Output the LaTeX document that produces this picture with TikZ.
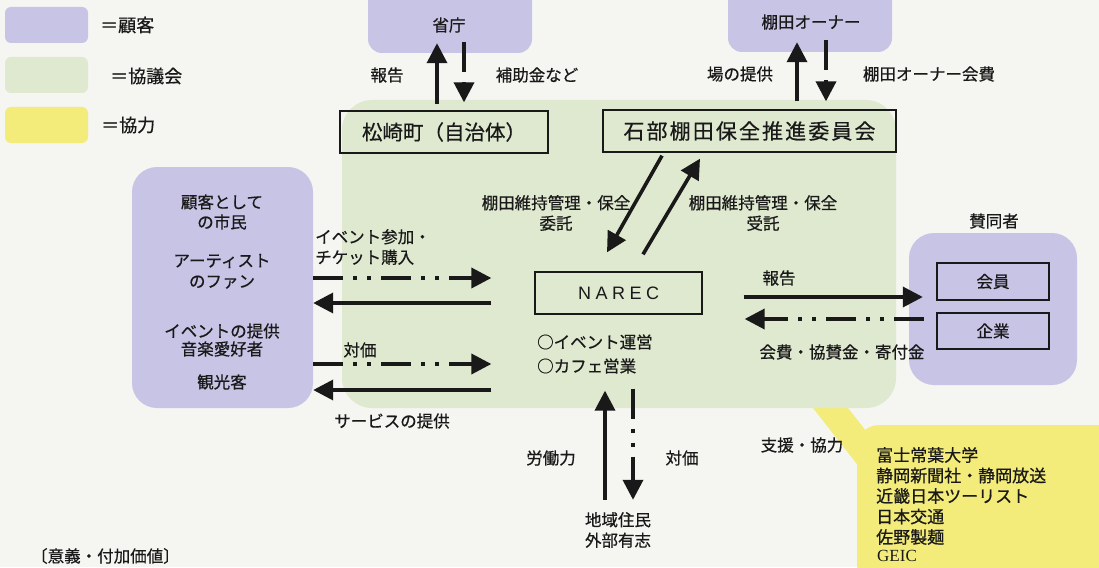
\documentclass[tikz,border=0pt]{standalone}
\usepackage{fontspec}
\setmainfont{Noto Sans CJK JP}[FakeBold=0.6]
\newfontfamily\jpwide[LetterSpace=10,FakeBold=0.6]{Noto Sans CJK JP}
\newfontfamily\narecfont[LetterSpace=25]{Liberation Sans}
\newfontfamily\serifL{Liberation Serif}
\usetikzlibrary{arrows.meta,calc}
\definecolor{bg}{RGB}{245,245,242}
\definecolor{purp}{RGB}{199,196,229}
\definecolor{grn}{RGB}{223,233,207}
\definecolor{yel}{RGB}{244,236,122}
\definecolor{ink}{RGB}{25,25,25}
\tikzset{
  txt/.style={inner sep=0pt, text=ink, align=center, font=\fontsize{16.5}{20.5}\selectfont},
  lgtxt/.style={txt, anchor=west, font=\fontsize{18}{20}\selectfont},
  frame/.style={draw=ink, line width=1.3pt, inner sep=0pt, text=ink},
  swatch/.style={rounded corners=6pt, minimum width=83pt, minimum height=36pt, inner sep=0pt},
  region/.style={inner sep=0pt},
  sol/.style={draw=ink, line width=3.6pt, -{Triangle[length=20pt,width=20pt]}},
  dd/.style={sol, dash pattern=on 30pt off 10pt on 4pt off 10pt on 4pt off 10pt},
}
\begin{document}
\begin{tikzpicture}[x=1pt,y=-1pt]
\fill[bg] (0,0) rectangle (1099,567);
\useasboundingbox (0,0) rectangle (1099,567);

% legend
\node[swatch, fill=purp] (lgA) at (46.5,25) {};
\node[lgtxt] (lgAt) at (100,25) {＝顧客};
\node[swatch, fill=grn] (lgB) at (46.5,75) {};
\node[lgtxt] (lgBt) at (110,76) {＝協議会};
\node[swatch, fill=yel] (lgC) at (46.5,125) {};
\node[lgtxt] (lgCt) at (101,125) {＝協力};

% yellow support callout (under the council region)
\fill[yel] (813,408) -- (848,408) -- (870,436) -- (860,468) -- cycle;
\node[region, fill=yel, rounded corners=22pt, minimum width=273pt, minimum height=175pt] (support) at (993.5,512.5) {};

% council region
\node[region, fill=grn, rounded corners=30pt, minimum width=554pt, minimum height=308pt] (council) at (619,254) {};

% customers
\node[region, fill=purp, rounded corners=14pt, minimum width=164pt, minimum height=78pt] (shocho) at (450,14) {};
\node[txt] (shochoT) at (449,25) {省庁};
\node[region, fill=purp, rounded corners=14pt, minimum width=164pt, minimum height=77pt] (owner) at (810,13.5) {};
\node[txt] (ownerT) at (811,22) {棚田オーナー};
\node[region, fill=purp, rounded corners=25pt, minimum width=181pt, minimum height=241pt] (citizens) at (222.5,287.5) {};
\node[txt] (c1) at (222,202) {顧客として};
\node[txt] (c2) at (222,222) {の市民};
\node[txt] (c3) at (222,261) {アーティスト};
\node[txt] (c4) at (222,282) {のファン};
\node[txt] (c5) at (222,331) {イベントの提供};
\node[txt] (c6) at (222,349) {音楽愛好者};
\node[txt] (c7) at (222,382) {観光客};
\node[region, fill=purp, rounded corners=25pt, minimum width=168pt, minimum height=152pt] (supporters) at (993,309) {};
\node[txt] (supT) at (994,221) {賛同者};
\node[frame, minimum width=112pt, minimum height=37pt, font=\fontsize{16.5}{20}\selectfont] (member) at (993,281.5) {会員};
\node[frame, minimum width=112pt, minimum height=36pt, font=\fontsize{16.5}{20}\selectfont] (company) at (993,331) {企業};

% council boxes
\node[frame, minimum width=208pt, minimum height=42pt, font=\fontsize{20.5}{22}\selectfont] (matsu) at (444,132) {松崎町（自治体）};
\node[frame, minimum width=293pt, minimum height=42pt, font=\jpwide\fontsize{21}{22}\selectfont] (ishibe) at (749.5,131) {石部棚田保全推進委員会};
\node[frame, minimum width=167pt, minimum height=42pt, font=\narecfont\fontsize{18}{20}\selectfont] (narec) at (618.5,293) {NAREC};
\node[txt, anchor=west] (act1) at (537,342) {○イベント運営};
\node[txt, anchor=west] (act2) at (537,366) {○カフェ営業};

% residents
\node[txt, minimum height=40pt] (residents) at (618,530) {地域住民\\外部有志};

% arrows: municipality - ministry
\draw[sol] ($(matsu.north)+(-7,-6)$) -- ($(shocho.south)+(-13,-10)$);
\draw[dd]  ($(shocho.south)+(14,-11)$) -- ($(matsu.north)+(20,-8)$);
\node[txt] (l1) at (387,75) {報告};
\node[txt] (l2) at (537,75) {補助金など};

% committee - owners
\draw[sol] ($(ishibe.north)+(47.5,-8)$) -- ($(owner.south)+(-13,-10)$);
\draw[dd]  ($(owner.south)+(16,-12)$) -- ($(ishibe.north)+(76.5,-8)$);
\node[txt] (l3) at (740,74) {場の提供};
\node[txt] (l4) at (929,74) {棚田オーナー会費};

% committee - NAREC
\draw[sol] ($(ishibe.south)+(-87.5,3)$) -- ($(narec.north)+(-11.5,-19)$);
\draw[sol] ($(narec.north)+(24.5,-17)$) -- ($(ishibe.south)+(-49.5,6)$);
\node[txt] (l5) at (556,213) {棚田維持管理・保全\\委託};
\node[txt] (l6) at (763,213) {棚田維持管理・保全\\受託};

% citizens - NAREC
\draw[dd]  ($(citizens.east)+(0,-9.5)$) -- ($(narec.west)+(-43,-15)$);
\draw[sol] ($(narec.west)+(-43,10)$) -- ($(citizens.east)+(0,15.5)$);
\draw[dd]  ($(citizens.east)+(0,76.5)$) -- ($(narec.west)+(-43,71)$);
\draw[sol] ($(narec.west)+(-43,97)$) -- ($(citizens.east)+(0,102.5)$);
\node[txt, anchor=west, align=left] (l7) at (315,247) {イベント参加・\\チケット購入};
\node[txt] (l8) at (360,350) {対価};
\node[txt] (l9) at (392,421) {サービスの提供};

% NAREC - supporters
\draw[sol] ($(narec.east)+(41,4)$) -- ($(supporters.west)+(14,-12)$);
\draw[dd]  ($(supporters.west)+(15,10)$) -- ($(narec.east)+(42,26)$);
\node[txt] (l10) at (779,278) {報告};
\node[txt] (l11) at (842,352) {会費・協賛金・寄付金};

% NAREC - residents
\draw[sol] ($(residents.north)+(-13,-10)$) -- ($(narec.south)+(-13.5,76)$);
\draw[dd]  ($(narec.south)+(14.5,74)$) -- ($(residents.north)+(15,-10)$);
\node[txt] (l12) at (551,458) {労働力};
\node[txt] (l13) at (682,458) {対価};

% support
\node[txt] (l14) at (802,445) {支援・協力};
\node[txt, anchor=west, font=\fontsize{17}{20}\selectfont] (s1) at (876,455) {富士常葉大学};
\node[txt, anchor=west, font=\fontsize{17}{20}\selectfont] (s2) at (876,475.5) {静岡新聞社・静岡放送};
\node[txt, anchor=west, font=\fontsize{17}{20}\selectfont] (s3) at (876,496) {近畿日本ツーリスト};
\node[txt, anchor=west, font=\fontsize{17}{20}\selectfont] (s4) at (876,516.5) {日本交通};
\node[txt, anchor=west, font=\fontsize{17}{20}\selectfont] (s5) at (876,537) {佐野製麺};
\node[txt, anchor=west, font=\serifL\fontsize{17}{20}\selectfont] (s6) at (877,556) {GEIC};

% footer
\node[txt, anchor=west] (foot) at (31,556) {〔意義・付加価値〕};
\end{tikzpicture}
\end{document}
